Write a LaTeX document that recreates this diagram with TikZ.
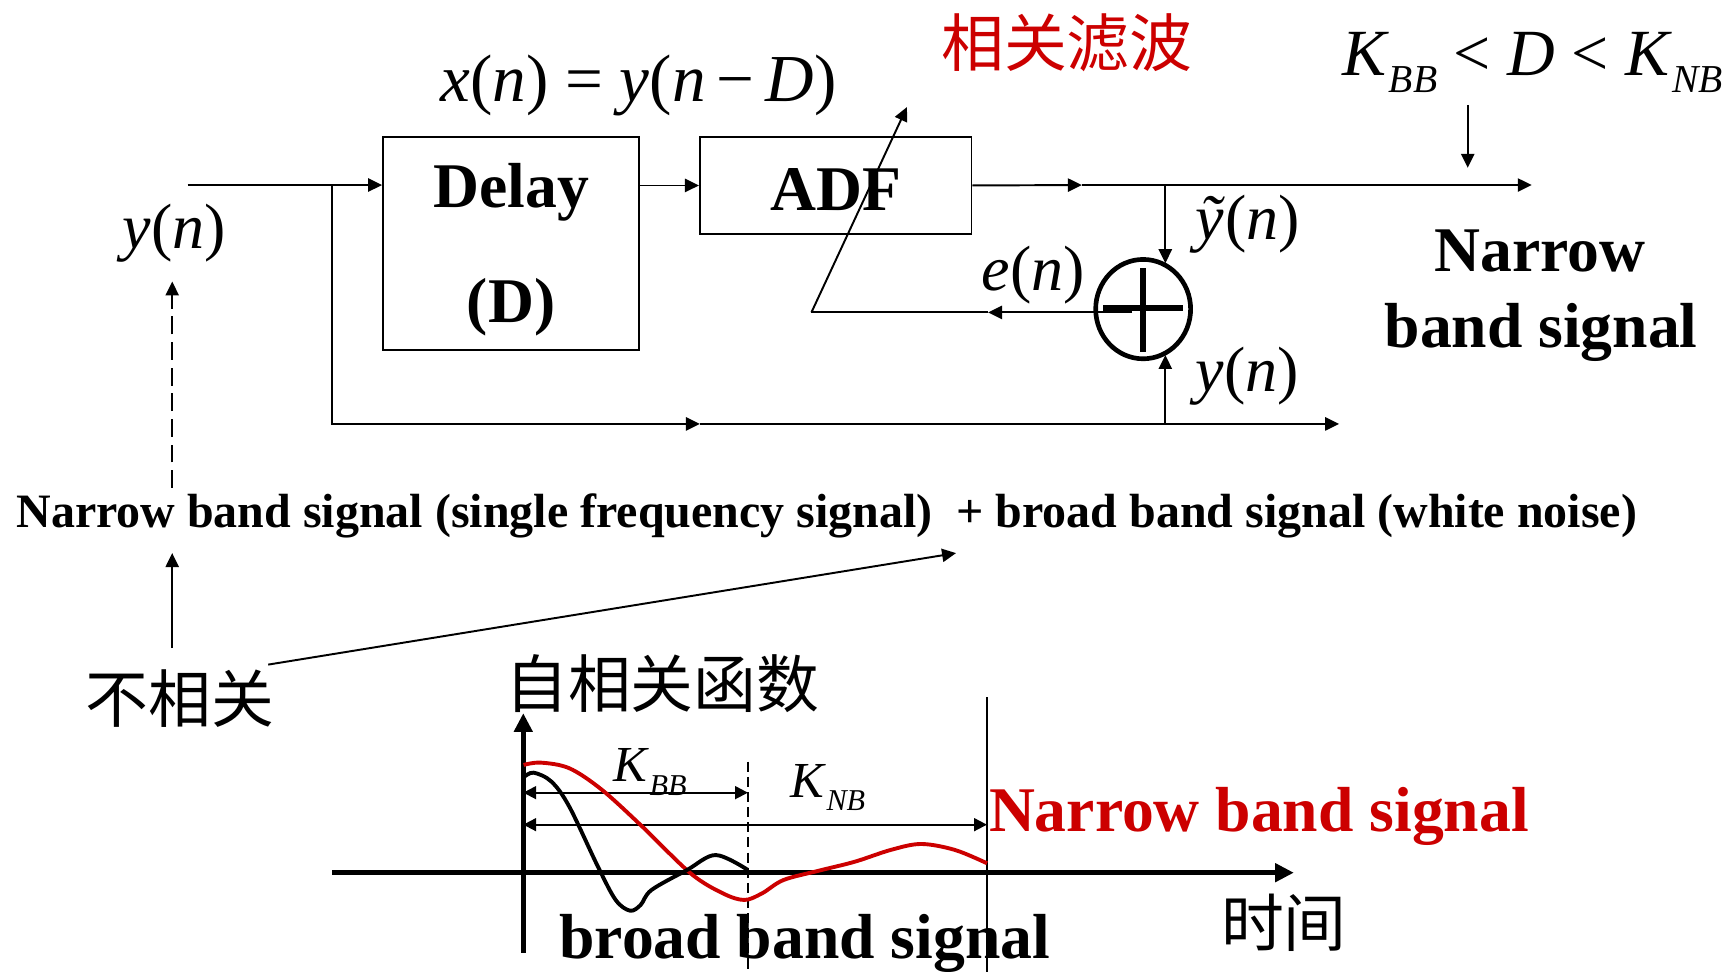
\documentclass[tikz,border=0pt]{standalone}
\usepackage{fontspec}
\setmainfont{Liberation Serif}
\newfontfamily\cjk{Noto Sans CJK SC}
\usetikzlibrary{positioning, arrows.meta, shapes.geometric}
\tikzset{every picture/.style={line width=0.5pt}}
\definecolor{ale-red}{RGB}{204,0,0}
\newcommand{\lsub}[1]{\raisebox{-0.27em}{\scalebox{0.6}{\itshape #1}}}

\begin{document}
\begin{tikzpicture}
    [blk/.style = {rectangle, draw, align=center, inner sep=0pt,
            font=\bfseries\fontsize{16.4}{29.5}\selectfont},
    sym/.style = {inner sep=0pt, anchor=base, font=\fontsize{16.5}{20}\selectfont},
    txt/.style = {inner sep=0pt, anchor=base, font=\bfseries\fontsize{16.4}{20}\selectfont},
    zh/.style = {inner sep=0pt, font=\cjk\fontsize{16.2}{20}\selectfont},
    axis/.style = {line width=1.3pt, -{Triangle[length=4.8pt, width=4.6pt]}},
    curve/.style = {-, line width=1pt, smooth, tension=0.55},
    both/.style = {{Triangle[length=3.3pt, width=3.3pt]}-{Triangle[length=3.3pt, width=3.3pt]}},
    -{Triangle[length=3.6pt, width=3.4pt]},
    ]
    \useasboundingbox (0,0) rectangle (15.68,-8.8);

	\node[blk, minimum width=2.32cm, minimum height=1.93cm] (delay) at (4.63,-2.205) {\rule{0pt}{14.5pt}Delay\\(D)};
	\node[blk, minimum width=2.46cm, minimum height=0.88cm] (adf) at (7.57,-1.68) {\rule{0pt}{12.9pt}ADF};
	\node[ellipse, draw, line width=1.2pt, minimum width=0.86cm, minimum height=0.90cm, inner sep=0pt] (sum) at (10.355,-2.80) {};

	\node[sym, font=\fontsize{17.3}{20}\selectfont] (xeq) at (5.785,-0.92) {\textit{x}(\textit{n}) = \textit{y}(\textit{n}\,−\,\textit{D})};
	\node[zh, text=ale-red] (corr) at (9.665,-0.39) {相关滤波};
	\node[sym, font=\fontsize{17}{20}\selectfont] (kcond) at (13.88,-0.68) {\textit{K}\lsub{BB} < \textit{D} < \textit{K}\lsub{NB}};
	\node[sym] (yin-text) at (1.58,-2.25) {\textit{y}(\textit{n})};
	\node[sym] (yt-text) at (11.30,-2.17) {\textit{ỹ}(\textit{n})};
	\node[sym] (e-text) at (9.36,-2.63) {\textit{e}(\textit{n})};
	\node[sym] (y-text) at (11.30,-3.55) {\textit{y}(\textit{n})};
	\node[txt] (nb1-text) at (13.95,-2.46) {Narrow};
	\node[txt] (nb2-text) at (13.96,-3.15) {band signal};

	\node[inner sep=0pt, anchor=base west, font=\bfseries\fontsize{12.36}{15}\selectfont] (mix) at (0.14,-4.78)
	    {Narrow band signal (single frequency signal)\ \ + broad band signal (white noise)};
	\node[zh] (uncorr) at (1.63,-6.33) {不相关};
	\node[zh] (acf) at (6.00,-6.19) {自相关函数};
	\node[zh] (time) at (11.63,-8.36) {时间};
	\node[txt, anchor=base west, text=ale-red] (nbs-text) at (8.95,-7.53) {Narrow band signal};
	\node[txt, anchor=base west] (bbs-text) at (5.06,-8.68) {broad band signal};
	\node[sym, font=\fontsize{13}{16}\selectfont] (kbb) at (5.89,-7.08) {\textit{K}\lsub{BB}};
	\node[sym, font=\fontsize{13}{16}\selectfont] (knb) at (7.50,-7.22) {\textit{K}\lsub{NB}};

	\coordinate (yin) at (1.70,-1.676);
	\coordinate (split) at (3.01,-1.676);
	\coordinate (low-mid) at (6.34,-3.84);
	\coordinate (low-join) at (10.556,-3.84);
	\coordinate (low-out) at (12.13,-3.84);
	\coordinate (top-mid) at (9.80,-1.676);
	\coordinate (top-join) at (10.556,-1.676);
	\coordinate (top-out) at (13.875,-1.676);
	\coordinate (e-tip) at (8.95,-2.83);
	\coordinate (e-end) at (7.35,-2.83);
	\coordinate (adapt) at (8.215,-0.97);
	\coordinate (k-top) at (13.295,-0.95);
	\coordinate (k-bot) at (13.295,-1.52);

    \draw (yin) -- (yin -| delay.west);
    \draw (delay.east |- adf) -- (adf.west);
    \draw (adf.east) -- (top-mid);
    \draw (top-mid) -- (top-out);
    \draw (top-join) -- (top-join |- sum.63);
    \draw (split) |- (low-mid);
    \draw (low-mid) -- (low-out);
    \draw (low-join) -- (low-join |- sum.-63);
    \draw ([xshift=-0.1cm, yshift=-0.03cm]sum.center) -- (e-tip);
    \draw[-] (e-tip) -- (e-end);
    \draw (e-end) -- (adapt);
    \draw (k-top) -- (k-bot);
    \draw[-, line width=1.6pt] ([xshift=-0.36cm, yshift=0.013cm]sum.center) -- ([xshift=0.36cm, yshift=0.013cm]sum.center);
    \draw[-, line width=1.6pt] ([yshift=0.37cm]sum.center) -- ([yshift=-0.39cm]sum.center);

	\coordinate (dash-bot) at (1.56,-4.42);
	\coordinate (dash-top) at (1.56,-2.55);
	\coordinate (up-bot) at (1.56,-5.87);
	\coordinate (up-top) at (1.56,-5.01);
	\coordinate (slant-start) at (2.43,-6.02);
	\coordinate (slant-tip) at (8.66,-5.01);

    \draw[dash pattern=on 4.6pt off 2pt] (dash-bot) -- (dash-top);
    \draw (up-bot) -- (up-top);
    \draw (slant-start) -- (slant-tip);

	% autocorrelation plot
	\coordinate (ax-bot) at (4.74,-8.63);
	\coordinate (ax-top) at (4.74,-6.46);
	\coordinate (ax-left) at (3.01,-7.905);
	\coordinate (ax-right) at (11.72,-7.905);

    \draw[axis] (ax-bot) -- (ax-top);
    \draw[axis] (ax-left) -- (ax-right);
    \draw[-, dash pattern=on 2.6pt off 1.3pt] (6.775,-6.90) -- (6.775,-8.80);
    \draw[-, line width=0.35pt] (8.94,-6.315) -- (8.94,-8.80);
    \draw[both] (4.74,-7.18) -- (6.775,-7.18);
    \draw[both] (4.74,-7.47) -- (8.94,-7.47);

    \draw[curve, ale-red] plot coordinates {(4.743,-6.929) (4.898,-6.908) (5.157,-6.959) (5.447,-7.150)
        (5.803,-7.473) (6.256,-7.911) (6.548,-8.092) (6.742,-8.152) (6.903,-8.092) (7.098,-7.971)
        (7.421,-7.886) (7.745,-7.805) (8.068,-7.699) (8.343,-7.645) (8.650,-7.699) (8.941,-7.820)};
    \draw[curve] plot coordinates {(4.743,-7.041) (4.833,-6.999) (4.995,-7.080) (5.157,-7.307)
        (5.416,-7.850) (5.577,-8.152) (5.707,-8.249) (5.803,-8.197) (5.901,-8.062) (6.224,-7.880)
        (6.483,-7.745) (6.774,-7.880)};
\end{tikzpicture}
\end{document}
